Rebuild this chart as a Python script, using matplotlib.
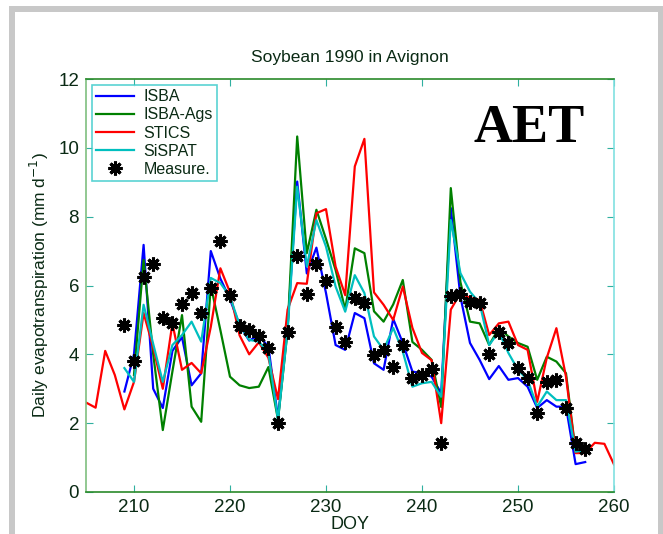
import matplotlib
matplotlib.use('Agg')
import matplotlib.pyplot as plt
from matplotlib.patches import Rectangle
import numpy as np

plt.rcParams['font.family'] = ['Liberation Sans', 'DejaVu Sans']

# daily values (mm/d)
days_stics = np.arange(205, 261)
stics = [2.6, 2.45, 4.1, 3.4, 2.4, 3.2, 5.2, 4.2, 3.0, 4.9,
         3.55, 3.75, 3.45, 4.8, 6.5, 5.8, 4.55, 4.0, 4.35, 3.9,
         2.7, 5.3, 6.07, 6.05, 8.1, 8.22, 6.55, 5.72, 9.46, 10.26,
         5.8, 5.44, 5.0, 5.97, 4.77, 4.04, 3.83, 2.0, 5.3, 5.78,
         5.64, 5.58, 4.56, 4.9, 4.95, 4.27, 4.13, 2.62, 3.9, 4.76,
         3.35, 1.13, 1.13, 1.43, 1.4, 0.8]

days_isba = np.arange(209, 258)
isba = [2.92, 4.0, 7.18, 3.0, 2.44, 4.1, 4.5, 3.1, 3.45, 7.0,
        6.2, 5.6, 4.85, 4.4, 4.55, 4.22, 2.15, 4.8, 9.02, 6.35,
        7.1, 5.78, 4.27, 4.13, 5.2, 5.05, 3.74, 3.55, 5.03, 4.33,
        3.5, 3.45, 3.35, 2.87, 8.25, 5.68, 4.33, 3.84, 3.28, 3.66,
        3.26, 3.31, 3.06, 2.44, 2.67, 2.48, 2.48, 0.81, 0.87]

days_ags = np.arange(210, 258)
isba_ags = [3.4, 6.74, 4.0, 1.8, 3.5, 5.14, 2.48, 2.04, 6.0, 4.7,
            3.35, 3.1, 3.02, 3.06, 3.63, 2.1, 4.7, 10.33, 6.94, 8.2,
            7.35, 6.45, 5.3, 7.08, 6.94, 5.25, 4.95, 5.45, 6.16, 4.36,
            4.13, 3.84, 2.47, 8.83, 6.1, 4.95, 4.9, 4.27, 4.76, 4.52,
            4.33, 4.22, 3.26, 3.93, 3.79, 3.45, 1.17, 1.22]

days_sispat = np.arange(209, 258)
sispat = [3.6, 3.2, 5.44, 4.3, 3.2, 4.27, 4.56, 4.95, 4.37, 6.22,
          6.07, 5.68, 4.85, 4.42, 4.37, 4.04, 2.1, 4.7, 8.87, 6.55,
          7.9, 7.13, 5.97, 5.24, 6.3, 5.78, 4.52, 4.13, 4.77, 4.08,
          3.06, 3.16, 3.2, 2.77, 7.9, 6.36, 5.82, 5.49, 4.27, 4.66,
          4.04, 3.55, 3.26, 2.48, 2.92, 2.67, 2.67, 1.17, 1.22]

days_meas = np.arange(209, 258)
measure = [4.85, 3.82, 6.26, 6.62, 5.05, 4.92, 5.46, 5.78, 5.19, 5.94,
           7.28, 5.71, 4.83, 4.71, 4.54, 4.18, 2.0, 4.64, 6.87, 5.76,
           6.63, 6.14, 4.79, 4.35, 5.63, 5.5, 3.98, 4.13, 3.64, 4.27,
           3.3, 3.4, 3.57, 1.43, 5.7, 5.76, 5.53, 5.48, 4.0, 4.64,
           4.32, 3.6, 3.3, 2.29, 3.21, 3.24, 2.43, 1.42, 1.25]

txt_col = '#0a2a14'

fig = plt.figure(figsize=(6.63, 5.34), dpi=100)
ax = fig.add_axes([86/663, 1-492/534, 528/663, 413/534])

lw = 1.6
ax.plot(days_isba, isba, color='#0000ff', lw=lw, label='ISBA')
ax.plot(days_ags, isba_ags, color='#008000', lw=lw, label='ISBA-Ags')
ax.plot(days_stics, stics, color='#ff0000', lw=lw, label='STICS')
ax.plot(days_sispat, sispat, color='#00bfbf', lw=lw, label='SiSPAT')
ax.plot(days_meas, measure, ls='none', marker=(8, 2, 0), ms=10, mew=2.2,
        color='black', label='Measure.')

ax.set_xlim(205, 260)
ax.set_ylim(0, 12)
ax.set_xticks(np.arange(210, 261, 10))
ax.set_yticks(np.arange(0, 13, 2))
ax.tick_params(direction='in', length=5, labelsize=13.5, labelcolor=txt_col,
               top=True, right=True, color='#30b0a0', pad=5)

ax.spines['left'].set_color('#7fbf7f')
ax.spines['bottom'].set_color('#2a8a2a')
ax.spines['top'].set_color('#2a8a2a')
ax.spines['right'].set_color('#80e0e0')
for s in ax.spines.values():
    s.set_linewidth(1.2)

ax.set_title('Soybean 1990 in Avignon', fontsize=12.5, color=txt_col, pad=12)
ax.set_ylabel('Daily evapotranspiration (mm d$^{-1}$)', fontsize=12.5,
              color=txt_col, labelpad=5)
ax.set_xlabel('DOY', fontsize=13, color=txt_col, labelpad=0)

ax.text(0.84, 0.88, 'AET', transform=ax.transAxes, ha='center', va='center',
        fontsize=39, fontweight='bold', family='Liberation Serif', color='black')

leg = ax.legend(loc='upper left', bbox_to_anchor=(0.011, 0.985), fontsize=11.5,
                frameon=True, fancybox=False, borderaxespad=0, handlelength=2.4,
                labelspacing=0.2, borderpad=0.25, handletextpad=0.6)
leg.get_frame().set_edgecolor('#30c8c8')
leg.get_frame().set_linewidth(1.2)
for t in leg.get_texts():
    t.set_color(txt_col)

# grey slide frame around the figure
fig.patches.append(Rectangle((12/663, -0.2), (661-12)/663, 1.2 - 9/534,
                             transform=fig.transFigure, fill=False,
                             edgecolor='#c8c8c8', lw=4.3))

fig.savefig('out.png', dpi=100)
